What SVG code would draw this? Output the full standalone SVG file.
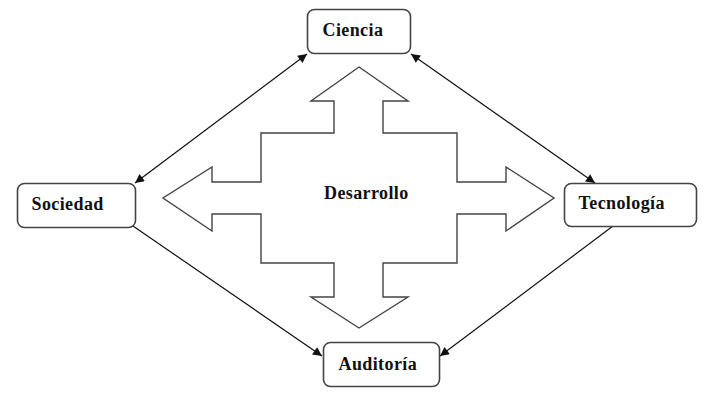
<svg xmlns="http://www.w3.org/2000/svg" width="709" height="402" viewBox="0 0 709 402">
<style>
.box{fill:#fff;stroke:#444;stroke-width:1.6}
.lbl{font-family:"Liberation Serif","Times New Roman",serif;font-weight:bold;font-size:18px;letter-spacing:0.4px;fill:#111}
.con{stroke:#111;stroke-width:1.2;fill:none}
.big{fill:#fff;stroke:#444;stroke-width:1.4;stroke-linejoin:miter}
</style>
<defs>
<marker id="ah" viewBox="0 0 10 10" refX="10" refY="5" markerWidth="11" markerHeight="9" markerUnits="userSpaceOnUse" orient="auto-start-reverse">
<path d="M0,0 L10,5 L0,10 Z" fill="#111"/>
</marker>
</defs>
<rect width="709" height="402" fill="#fff"/>
<g id="desarrollo">
<polygon class="big" points="359,67 408,101 383,101 383,133 457,133 457,182 506,182 506,167 554,198 506,231 506,214 457,214 457,263 383,263 383,297 408,297 359,328 311,297 334,297 334,263 261,263 261,214 212,214 212,231 163,198 212,167 212,182 261,182 261,133 334,133 334,101 311,101"/>
<text class="lbl" x="324" y="199">Desarrollo</text>
</g>
<g id="connectors">
<line class="con" x1="307" y1="54" x2="135" y2="183" marker-start="url(#ah)" marker-end="url(#ah)"/>
<line class="con" x1="411" y1="54" x2="595" y2="183" marker-start="url(#ah)" marker-end="url(#ah)"/>
<line class="con" x1="133" y1="226" x2="322" y2="356" marker-end="url(#ah)"/>
<line class="con" x1="613" y1="226" x2="440" y2="356" marker-end="url(#ah)"/>
</g>
<g id="ciencia">
<rect class="box" x="307.5" y="9.5" width="103" height="44" rx="7"/>
<text class="lbl" x="322.5" y="35.5">Ciencia</text>
</g>
<g id="sociedad">
<rect class="box" x="17.5" y="183.5" width="118" height="44" rx="7"/>
<text class="lbl" x="31.5" y="210">Sociedad</text>
</g>
<g id="tecnologia">
<rect class="box" x="564.5" y="183.5" width="132" height="43" rx="7"/>
<text class="lbl" x="578.5" y="209">Tecnología</text>
</g>
<g id="auditoria">
<rect class="box" x="323.5" y="342.5" width="116" height="44" rx="7"/>
<text class="lbl" x="338.5" y="369.5">Auditoría</text>
</g>
</svg>
